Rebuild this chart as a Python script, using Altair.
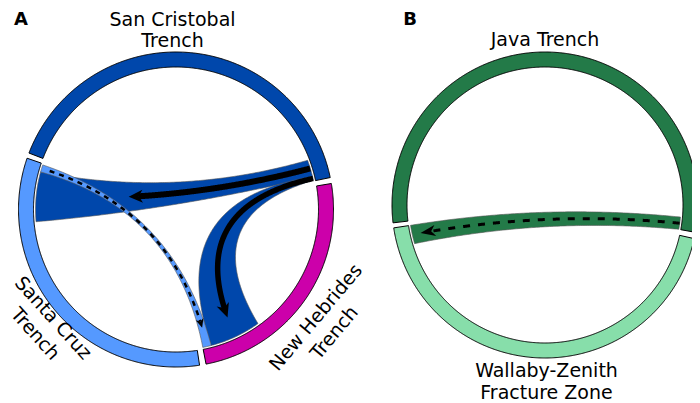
import numpy as np
import altair as alt

# ---------------- data (angles in degrees, clockwise from 12 o'clock) ----------------
# Panel A sectors
a_sector_names = ["San Cristobal\nTrench", "New Hebrides\nTrench", "Santa Cruz\nTrench"]
a_sector_start = [291.0, 80.5, 171.4]
a_sector_end = [438.3, 169.0, 289.0]
a_sector_colors = ["#0047AB", "#CC00AA", "#5599FF"]

# Panel A links (source range -> target range)
a_link_from = ["San Cristobal\nTrench", "San Cristobal\nTrench", "Santa Cruz\nTrench"]
a_link_to = ["Santa Cruz\nTrench", "New Hebrides\nTrench", "New Hebrides\nTrench"]
a_src_start = [69.5, 76.5, 285.5]
a_src_end = [76.5, 78.0, 288.5]
a_tgt_start = [265.0, 144.3, 165.5]
a_tgt_end = [285.5, 165.5, 169.0]
a_link_dashed = [False, False, True]

# Panel B sectors
b_sector_names = ["Java Trench", "Wallaby-Zenith\nFracture Zone"]
b_sector_start = [263.3, 102.7]
b_sector_end = [460.3, 261.4]
b_sector_colors = ["#237A48", "#87DEAA"]

# Panel B links
b_link_from = ["Java Trench"]
b_link_to = ["Wallaby-Zenith\nFracture Zone"]
b_src_start = [95.1]
b_src_end = [100.3]
b_tgt_start = [253.5]
b_tgt_end = [261.4]
b_link_dashed = [True]

panel_letters = ["A", "B"]

# ---------------- layout / style ----------------
LAYOUT = {
    "A": dict(c=(176.0, 209.5), r_out=157.5, r_in=142.5, r_link=140.5),
    "B": dict(c=(545.0, 205.0), r_out=153.0, r_in=138.0, r_link=136.0),
}
# bend of the two ribbon borders (1 = control point at circle centre)
A_BEND = [(1.0, 0.74), (0.84, 1.17), (1.0, 1.0)]
B_BEND = [(0.62, 1.1)]
# arrow extent along ribbon centre line, stroke width, head length/width
A_ARROW = [(0.0, 0.67, 6.0, 14, 13), (0.0, 0.93, 5.5, 14, 13), (0.03, 0.93, 2.5, 9, 8)]
B_ARROW = [(0.0, 0.97, 3.0, 15, 11)]

LABEL_POS = {
    "San Cristobal\nTrench": (172.5, 25.5, 0),
    "New Hebrides\nTrench": (316.0, 317.5, 310),
    "Santa Cruz\nTrench": (53.0, 318.0, 48),
    "Java Trench": (545.0, 46.0, 0),
    "Wallaby-Zenith\nFracture Zone": (546.5, 377.0, 0),
}
LETTER_POS = {"A": (21.0, 24.5), "B": (410.0, 24.5)}
FONT = "DejaVu Sans"
PROJ = dict(type="identity", scale=1, translate=[-8, -8])


def P(c, r, d):
    a = np.radians(d)
    return np.array([c[0] + r * np.sin(a), c[1] - r * np.cos(a)])


def arc(c, r, d0, d1):
    n = int(abs(d1 - d0) * 3) + 2
    return [P(c, r, d) for d in np.linspace(d0, d1, n)]


def bez(p0, p2, c, k):
    c = np.asarray(c)
    m = (p0 + p2) / 2
    ctrl = c + (m - c) * (1 - k)

    def f(t):
        t = np.atleast_1d(np.asarray(t, dtype=float))[:, None]
        return (1 - t) ** 2 * p0 + 2 * t * (1 - t) * ctrl + t ** 2 * p2
    return f


def poly_feature(pts, **props):
    coords = [[float(p[0]), float(p[1])] for p in pts]
    coords.append(coords[0])
    return {"type": "Feature", "geometry": {"type": "Polygon", "coordinates": [coords]},
            "properties": props}


def line_feature(pts, **props):
    coords = [[float(p[0]), float(p[1])] for p in pts]
    return {"type": "Feature", "geometry": {"type": "LineString", "coordinates": coords},
            "properties": props}


rings, ribbons, solid_lines, dash_a, dash_b, heads = [], [], [], [], [], []
labels = []


def build(panel, names, starts, ends, colors, lfrom, lto, s0s, s1s, t0s, t1s, dashed, bends, arrows):
    L = LAYOUT[panel]
    c, ro, ri, rl = L["c"], L["r_out"], L["r_in"], L["r_link"]
    color_of = dict(zip(names, colors))
    for nm, d0, d1, col in zip(names, starts, ends, colors):
        pts = arc(c, ro, d0, d1) + arc(c, ri, d1, d0)
        rings.append(poly_feature(pts, fill=col))
        x, y, ang = LABEL_POS[nm]
        labels.append({"x": x, "y": y, "angle": ang, "text": nm})
    for i in range(len(lfrom)):
        s0, s1, t0, t1 = s0s[i], s1s[i], t0s[i], t1s[i]
        k1, k2 = bends[i]
        e1 = bez(P(c, rl, s1), P(c, rl, t0), c, k1)
        e2 = bez(P(c, rl, t1), P(c, rl, s0), c, k2)
        ts = np.linspace(0, 1, 120)
        pts = arc(c, rl, s0, s1) + list(e1(ts)) + arc(c, rl, t0, t1) + list(e2(ts))
        ribbons.append(poly_feature(pts, fill=color_of[lfrom[i]]))

        def centre(t, e1=e1, e2=e2):
            t = np.atleast_1d(t)
            return (e1(t) + e2(1 - t)) / 2

        ta, tb, w, hl, hw = arrows[i]
        tip = centre(tb)[0]
        d = tip - centre(tb - 0.004)[0]
        d = d / np.linalg.norm(d)
        nrm = np.array([-d[1], d[0]])
        notch = tip - 0.72 * hl * d
        base = tip - hl * d
        heads.append(poly_feature([tip, base + nrm * hw / 2, notch, base - nrm * hw / 2]))
        tt = np.linspace(ta, tb, 300)
        cp = centre(tt)
        keep = [p for p in cp if np.linalg.norm(p - tip) > 0.72 * hl + 0.5]
        keep.append(notch)
        feat = line_feature(keep, w=w)
        if not dashed[i]:
            solid_lines.append(feat)
        elif panel == "A":
            dash_a.append(feat)
        else:
            dash_b.append(feat)


build("A", a_sector_names, a_sector_start, a_sector_end, a_sector_colors, a_link_from, a_link_to,
      a_src_start, a_src_end, a_tgt_start, a_tgt_end, a_link_dashed, A_BEND, A_ARROW)
build("B", b_sector_names, b_sector_start, b_sector_end, b_sector_colors, b_link_from, b_link_to,
      b_src_start, b_src_end, b_tgt_start, b_tgt_end, b_link_dashed, B_BEND, B_ARROW)

ring_layer = alt.Chart(alt.Data(values=rings)).mark_geoshape(
    stroke="black", strokeWidth=1).encode(fill=alt.Fill("properties.fill:N", scale=None)).project(**PROJ)
ribbon_layer = alt.Chart(alt.Data(values=ribbons)).mark_geoshape(
    stroke="#555555", strokeWidth=0.6).encode(fill=alt.Fill("properties.fill:N", scale=None)).project(**PROJ)
solid_layer = alt.Chart(alt.Data(values=solid_lines)).mark_geoshape(
    filled=False, stroke="black", strokeCap="butt").encode(
    strokeWidth=alt.StrokeWidth("properties.w:Q", scale=None)).project(**PROJ)
dash_a_layer = alt.Chart(alt.Data(values=dash_a)).mark_geoshape(
    filled=False, stroke="black", strokeDash=[5, 5], strokeCap="butt").encode(
    strokeWidth=alt.StrokeWidth("properties.w:Q", scale=None)).project(**PROJ)
dash_b_layer = alt.Chart(alt.Data(values=dash_b)).mark_geoshape(
    filled=False, stroke="black", strokeDash=[7, 8], strokeCap="butt").encode(
    strokeWidth=alt.StrokeWidth("properties.w:Q", scale=None)).project(**PROJ)
head_layer = alt.Chart(alt.Data(values=heads)).mark_geoshape(
    fill="black", strokeWidth=0).project(**PROJ)

flat = [l for l in labels if l["angle"] == 0]
rot = [l for l in labels if l["angle"] != 0]
flat_text = alt.Chart(alt.Data(values=flat)).mark_text(
    font=FONT, fontSize=19, align="center", baseline="alphabetic", lineBreak="\n",
    lineHeight=21.5, color="black").encode(
    longitude="x:Q", latitude="y:Q", text="text:N").project(**PROJ)
rot_text = alt.Chart(alt.Data(values=rot)).mark_text(
    font=FONT, fontSize=19, align="center", baseline="middle", lineBreak="\n",
    lineHeight=24, color="black").encode(
    longitude="x:Q", latitude="y:Q", text="text:N",
    angle=alt.Angle("angle:Q", scale=None)).project(**PROJ)
letters = [{"x": LETTER_POS[k][0], "y": LETTER_POS[k][1], "text": k} for k in panel_letters]
letter_text = alt.Chart(alt.Data(values=letters)).mark_text(
    font=FONT, fontSize=18, fontWeight="bold", align="center", baseline="alphabetic",
    color="black").encode(longitude="x:Q", latitude="y:Q", text="text:N").project(**PROJ)

chart = alt.layer(ring_layer, ribbon_layer, solid_layer, dash_a_layer, dash_b_layer,
                  head_layer, flat_text, rot_text, letter_text).properties(
    width=684, height=395, autosize=alt.AutoSizeParams(type="none"), padding=0,
    background="white").configure_view(stroke=None)

chart.save("out.html", embed_options={"renderer": "svg", "actions": False})
